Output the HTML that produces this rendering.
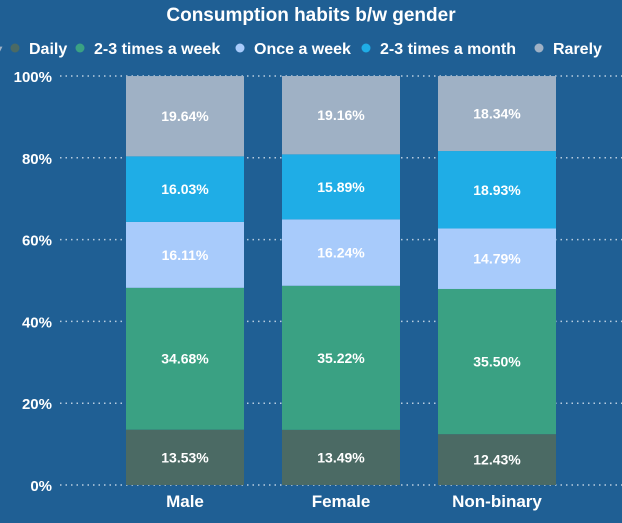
<!DOCTYPE html>
<html><head><meta charset="utf-8"><style>
body{margin:0;background:#1f5f94;}
svg{display:block;font-family:"Liberation Sans",sans-serif;font-weight:bold;}
</style></head><body>
<svg id="c" width="622" height="523">
<rect width="622" height="523" fill="#1f5f94"/>
<text x="311" y="21" text-anchor="middle" fill="#fff" font-size="19">Consumption habits b/w gender</text>
<g id="legend"></g>
<g id="grid"></g>
<g id="bars"></g>
</svg>
<script>
const categories=["Male","Female","Non-binary"];
const seriesNames=["Daily","2-3 times a week","Once a week","2-3 times a month","Rarely"];
const daily=[13.53,13.49,12.43];
const twoThreeWeek=[34.68,35.22,35.50];
const onceWeek=[16.11,16.24,14.79];
const twoThreeMonth=[16.03,15.89,18.93];
const rarely=[19.64,19.16,18.34];
const yTicks=[0,20,40,60,80,100];
const series=[daily,twoThreeWeek,onceWeek,twoThreeMonth,rarely];
const colors=["#4b6a64","#3aa183","#a8cbfb","#1fade6","#9fb1c5"];
const NS="http://www.w3.org/2000/svg";
const y0=485,y1=76;
const y=v=>y0-(v/100)*(y0-y1);
const x=i=>126+i*156;const bw=118;
function el(t,a,p){const e=document.createElementNS(NS,t);for(const k in a)e.setAttribute(k,a[k]);p.appendChild(e);return e;}
const grid=document.getElementById('grid');
yTicks.forEach(t=>{
 const l=el('line',{x1:60,x2:622,y1:y(t),y2:y(t),stroke:'#b9cde0','stroke-width':1.5,'stroke-dasharray':'1.5 4'},grid);
 
 
 const tx=el('text',{x:52,y:y(t)+6,'text-anchor':'end',fill:'#fff','font-size':15},grid);
 tx.textContent=t+'%';
 
 
});
const bars=document.getElementById('bars');
categories.forEach((c,i)=>{
 let cum=0;
 series.forEach((s,k)=>{
  const v=s[i];
  const r=el('rect',{x:x(i),y:y(cum+v),width:bw,height:y(cum)-y(cum+v),fill:colors[k]},bars);
  
  
  const t=el('text',{x:x(i)+bw/2,y:(y(cum)+y(cum+v))/2+5,'text-anchor':'middle',fill:'#fff','font-size':14},bars);
  t.textContent=v.toFixed(2)+'%';
  
  
  cum+=v;
 });
 const l=el('text',{x:x(i)+bw/2,y:507,'text-anchor':'middle',fill:'#fff','font-size':17},bars);
 l.textContent=c;
 
 
});
const lg=document.getElementById('legend');
const lx=[29,94,254,380,553];
seriesNames.forEach((n,k)=>{
 const c=el('circle',{cx:lx[k]-14,cy:48,r:4.5,fill:colors[k]},lg);
 
 
 const t=el('text',{x:lx[k],y:54,fill:'#fff','font-size':16},lg);
 t.textContent=n;
 
 
});
const tri=el('text',{x:-5,y:54,fill:'#9fb1c5','font-size':14},lg);
tri.textContent='▾';


</script>
</body></html>
